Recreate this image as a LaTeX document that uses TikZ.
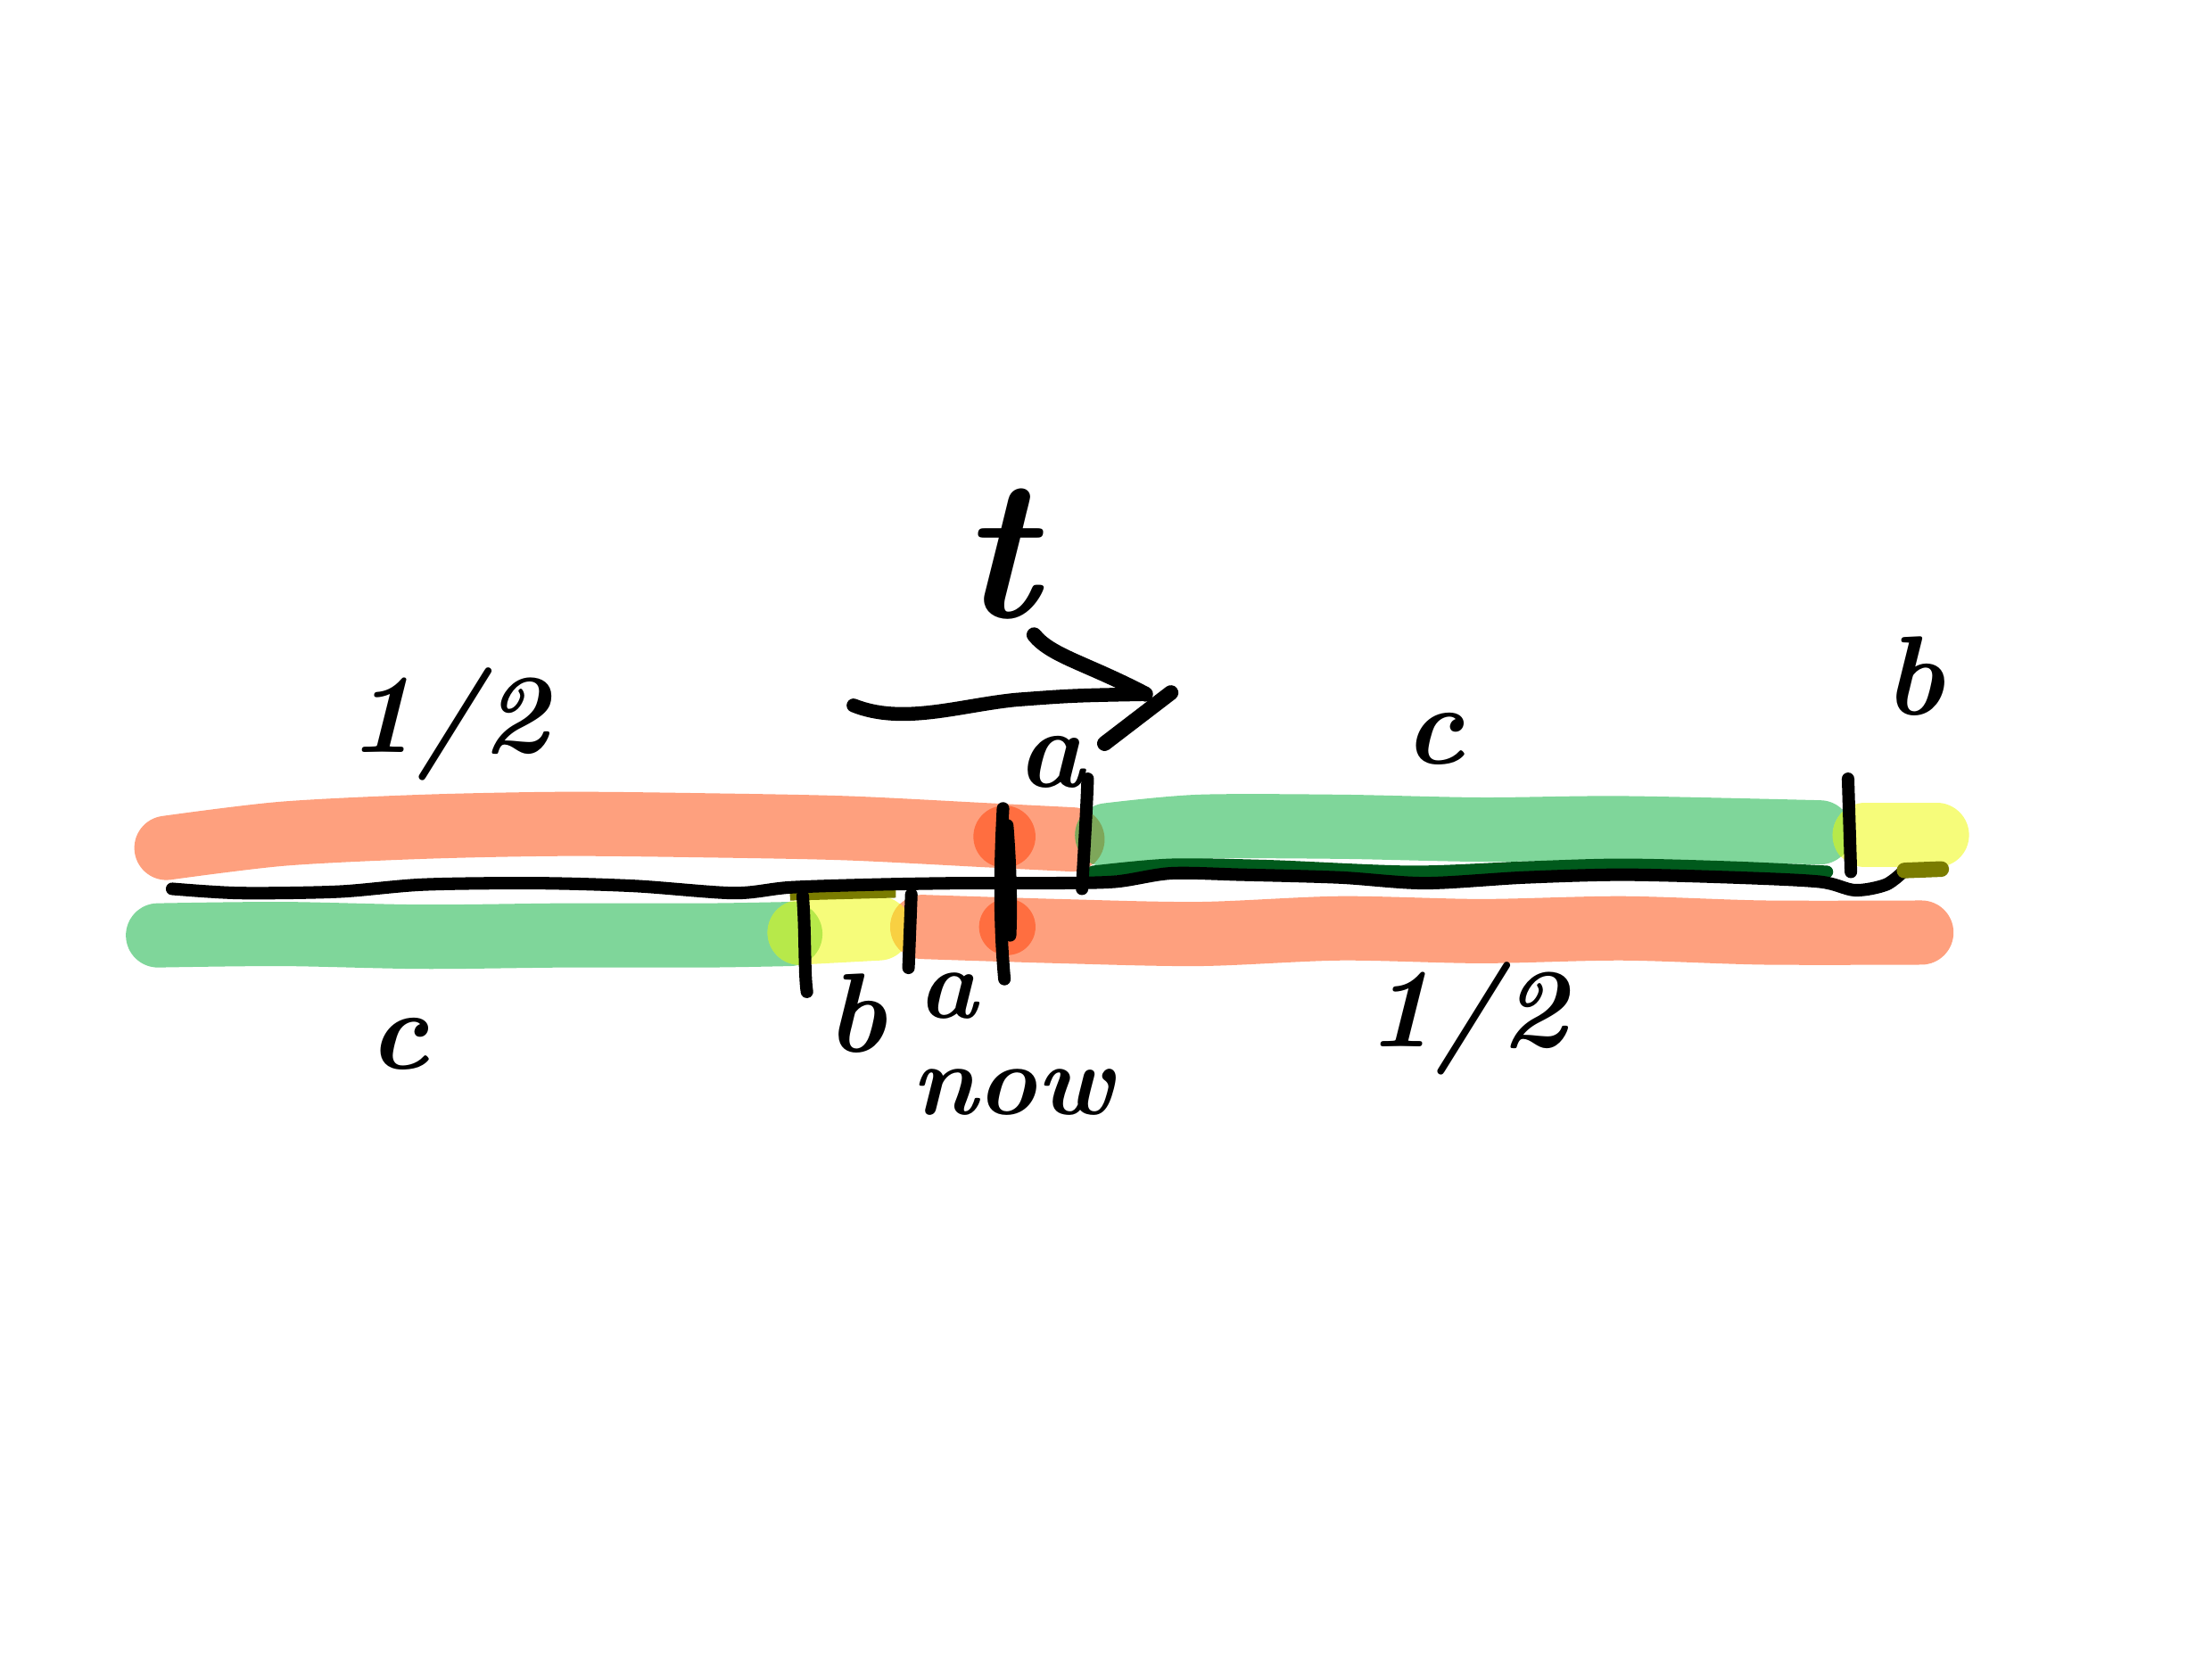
\documentclass[tikz,border=0pt]{standalone}
\begin{document}
\definecolor{salmon}{HTML}{FEA07E}
\definecolor{grn}{HTML}{7FD69A}
\definecolor{yel}{HTML}{F6FC7A}
\definecolor{lime}{HTML}{B7E94A}
\definecolor{olivelens}{HTML}{7EA75A}
\definecolor{orangelens}{HTML}{F8D042}
\definecolor{reddot}{HTML}{FF6E40}
\definecolor{darkgrn}{HTML}{005A1C}
\definecolor{olivestrip}{HTML}{7A7C00}
\begin{tikzpicture}[x=0.015816cm,y=-0.015816cm,
  band/.style={line width=20.5pt,line cap=round,line join=round},
  ink/.style={line width=4pt,line cap=round,line join=round,black},
  tick/.style={line width=4pt,line cap=round,black},
  lbl/.style={font=\fontsize{36}{40}\selectfont\bfseries\itshape,inner sep=0pt}]
\useasboundingbox (0,0) rectangle (1568,1176);
% bands
\draw[band,salmon] plot[smooth] coordinates {(118,601) (200,591) (300,586) (400,584) (500,585) (600,587) (700,592) (760,595)};
\draw[band,grn] plot[smooth] coordinates {(112,663) (200,662) (300,664) (400,663) (500,663) (560,662)};
\draw[band,yel] (567,661) -- (623,658);
\draw[band,salmon] plot[smooth] coordinates {(654,657) (750,660) (850,662) (950,658) (1050,660) (1150,658) (1250,661) (1362,661)};
\draw[band,grn] plot[smooth] coordinates {(785,592) (850,586) (950,586) (1050,588) (1150,587) (1290,590)};
\draw[band,yel] (1322,592) -- (1373,592);
% lenses
\begin{scope}\clip (760,595) circle (23); \fill[olivelens] (785,592) circle (23);\end{scope}
\begin{scope}\clip (654,657) circle (23); \fill[orangelens] (623,658) circle (23);\end{scope}
\begin{scope}\clip (560,662) circle (23); \fill[lime] (567,661) circle (23);\end{scope}
\begin{scope}\clip (1290,590) circle (23); \fill[lime] (1322,592) circle (23);\end{scope}
% darker dots
\fill[reddot] (712,593) circle (22);
\fill[reddot] (714,657) circle (20);
% strips under the line
\draw[darkgrn,line width=4pt,line cap=round] plot[smooth] coordinates {(775,618) (830,613) (900,614) (1000,618) (1080,615) (1150,613) (1230,615) (1295,618)};
\draw[olivestrip,line width=3pt] (560,635) -- (635,633);
% main line
\coordinate (L0) at (122,630);
\coordinate (L1) at (1350,617);
\coordinate (L2) at (1376,616);
\draw[ink] plot[smooth] coordinates {(122,630) (170,633) (240,632) (300,627) (380,626) (450,628) (520,633) (560,629) (620,627) (680,626) (740,626) (790,625) (830,619) (880,620) (950,622) (1010,626) (1080,622) (1150,620) (1230,622) (1290,625) (1315,631) (1337,627) (1350,617)};
\draw[olivestrip,line width=5pt,line cap=round] (L1) -- (L2);
% ticks
\draw[tick] (569,635) .. controls (571,660) and (570,690) .. (572,703);
\draw[tick] (646,634) -- (644,686);
\draw[tick] (711,573) .. controls (709,610) and (708,650) .. (712,694);
\draw[tick] (714,585) .. controls (716,610) and (717,640) .. (716,663);
\draw[tick] (771,552) .. controls (770,580) and (768,610) .. (767,630);
\draw[tick] (1310,552) -- (1312,618);
% arrow
\coordinate (arrS) at (605,500);
\coordinate (arrE) at (812,492);
\coordinate (hA) at (733,450);
\coordinate (hB) at (830,491);
\coordinate (hC) at (783,527);
\draw[ink,line width=4.4pt] (arrS) .. controls (640,514) and (680,500) .. (720,496) .. controls (760,493) .. (arrE);
\draw[ink,line width=4.8pt] (hA) .. controls (745,465) and (770,470) .. (arrE);
\draw[ink,line width=4.8pt] (hB) -- (hC);
% labels
\node[lbl] (half1) at (318,513) {1/2};
\node[lbl] (c1) at (283,740) {c};
\node[lbl] (b1) at (607,718) {b};
\node[lbl,font=\fontsize{32}{36}\selectfont\bfseries\itshape] (a1) at (672,706) {a};
\node[lbl,font=\fontsize{32}{36}\selectfont\bfseries\itshape] (now) at (718,774) {now};
\node[lbl,font=\fontsize{64}{70}\selectfont\bfseries\itshape] (t) at (708,393) {t};
\node[lbl] (a2) at (745,540) {a};
\node[lbl] (c2) at (1017,524) {c};
\node[lbl] (b2) at (1357,479) {b};
\node[lbl] (half2) at (1040,722) {1/2};
\end{tikzpicture}
\end{document}
